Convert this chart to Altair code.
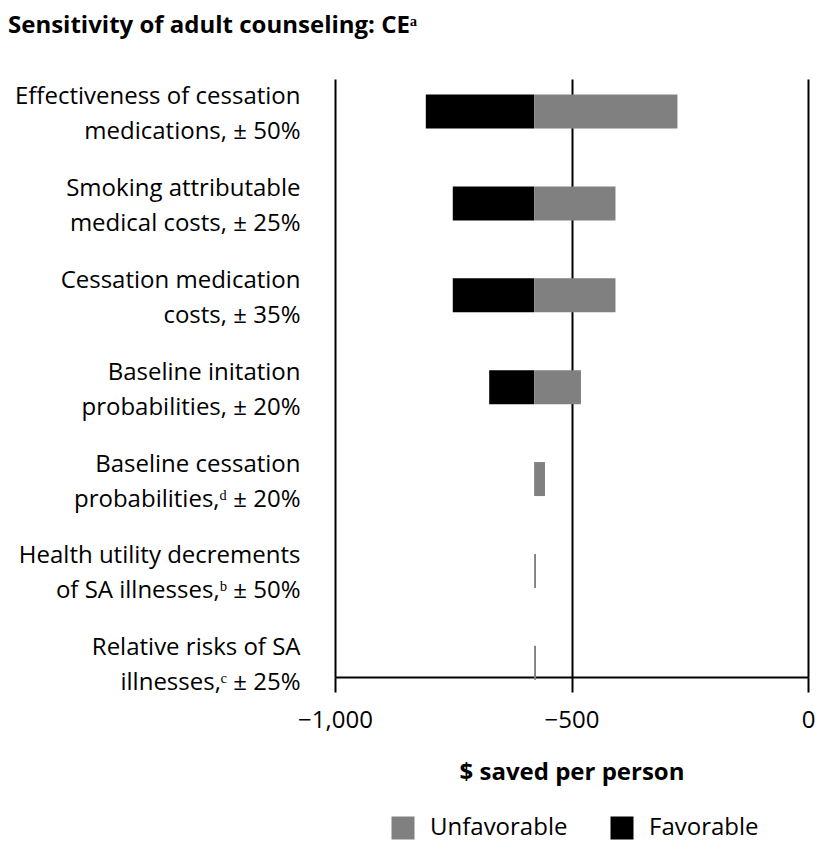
import json
import altair as alt
import pandas as pd

# Category labels (two lines each), top to bottom
categories = [
    ["Effectiveness of cessation", "medications,  \u00b1 50%"],
    ["Smoking attributable", "medical costs,  \u00b1 25%"],
    ["Cessation medication", "costs,  \u00b1 35%"],
    ["Baseline initation", "probabilities,  \u00b1 20%"],
    ["Baseline cessation", "probabilities,\u1d48  \u00b1 20%"],
    ["Health utility decrements", "of SA illnesses,\u1d47  \u00b1 50%"],
    ["Relative risks of SA", "illnesses,\u1d9c  \u00b1 25%"],
]
baseline = -579
favorable_end = [-808, -751, -751, -674, -579, -579, -579]
unfavorable_end = [-276, -407, -407, -480, -556, -575, -575]
series = ["Unfavorable", "Favorable"]
colors = ["#808080", "#000000"]
x_ticks = [-1000, -500, 0]

rows = []
for i, (lo, hi) in enumerate(zip(favorable_end, unfavorable_end)):
    if lo != baseline:
        rows.append({"idx": i, "series": "Favorable", "start": lo, "end": baseline})
    rows.append({"idx": i, "series": "Unfavorable", "start": baseline, "end": hi})
df = pd.DataFrame(rows)

label_expr = json.dumps(categories, ensure_ascii=False) + "[datum.value]"

FONT = "Open Sans"

chart = alt.Chart(df).mark_bar(size=34, orient="horizontal").encode(
    x=alt.X(
        "start:Q",
        scale=alt.Scale(domain=[-1000, 0], nice=False, zero=False),
        axis=alt.Axis(
            values=x_ticks, grid=True, gridColor="black", gridWidth=2, gridOpacity=1,
            domainColor="black", domainWidth=2, tickColor="black", tickWidth=2,
            tickSize=15, labelFontSize=24, labelColor="black", labelPadding=16,
            title="$ saved per person", titleFontSize=24, titleFontWeight="bold",
            titleColor="black", titlePadding=28, labelFlush=False,
        ),
    ),
    x2="end:Q",
    y=alt.Y(
        "idx:Q",
        scale=alt.Scale(domain=[-0.3, 6.1], reverse=True, nice=False, zero=False),
        axis=alt.Axis(
            values=list(range(len(categories))), labelExpr=label_expr, domain=False,
            ticks=False, grid=False, labelFontSize=24, labelColor="black",
            labelPadding=35, labelLineHeight=35, labelAlign="right",
            labelBaseline="middle", labelOffset=-15, labelLimit=0, title=None,
        ),
    ),
    color=alt.Color(
        "series:N",
        scale=alt.Scale(domain=series, range=colors),
        legend=alt.Legend(
            title=None, orient="none", legendX=56, legendY=737, direction="horizontal",
            symbolType="square", symbolSize=529, symbolStrokeWidth=0, symbolOpacity=1,
            labelFontSize=24, labelColor="black", labelOffset=15, columnPadding=42,
            labelLimit=0,
        ),
    ),
).properties(
    width=473,
    height=598,
    autosize=alt.AutoSizeParams(type="none"),
    padding={"left": 327, "top": 71, "right": 9, "bottom": 167},
    title=alt.TitleParams(
        text="Sensitivity of adult counseling: CE\u1d43", anchor="start", frame="group",
        fontSize=24, fontWeight="bold", color="black", dx=-327, offset=41,
        font=FONT,
    ),
).configure(font=FONT).configure_view(stroke=None)

chart.save("out.html", embed_options={"renderer": "svg", "actions": False})
